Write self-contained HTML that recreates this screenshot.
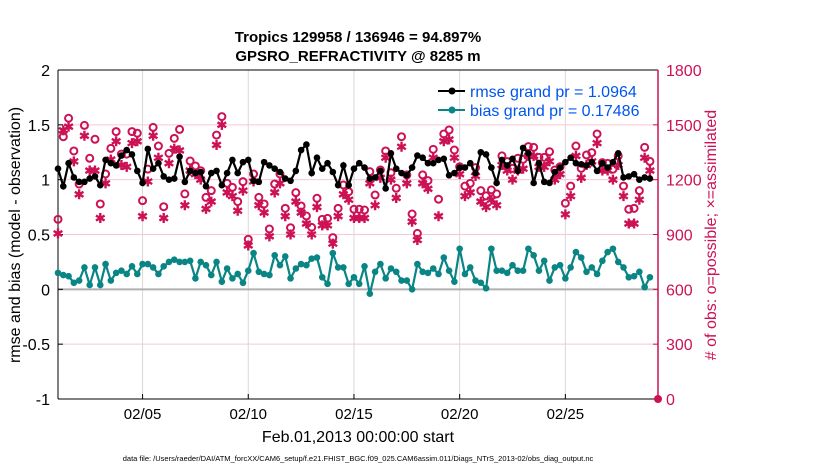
<!DOCTYPE html>
<html><head><meta charset="utf-8"><style>
body{margin:0;background:#fff;}
svg{display:block;font-family:"Liberation Sans",sans-serif;}
</style></head><body>
<svg id="chart" width="830" height="470" xmlns="http://www.w3.org/2000/svg">
<g id="grid"></g>
<g id="axes"></g>
<g id="marks"></g>
<text x="358" y="42" text-anchor="middle" font-size="15" font-weight="bold">Tropics 129958 / 136946 = 94.897%</text>
<text x="358" y="61" text-anchor="middle" font-size="15" font-weight="bold">GPSRO_REFRACTIVITY @ 8285 m</text>
<text x="358" y="442" text-anchor="middle" font-size="16">Feb.01,2013 00:00:00 start</text>
<text transform="translate(20,235) rotate(-90)" text-anchor="middle" font-size="16">rmse and bias (model - observation)</text>
<text transform="translate(716,235) rotate(-90)" text-anchor="middle" font-size="16" fill="#cc1155"># of obs: o=possible; ×=assimilated</text>
<text x="358" y="461" text-anchor="middle" font-size="7.5">data file: /Users/raeder/DAI/ATM_forcXX/CAM6_setup/f.e21.FHIST_BGC.f09_025.CAM6assim.011/Diags_NTrS_2013-02/obs_diag_output.nc</text>
<g>
<line x1="438" y1="91" x2="465" y2="91" stroke="#000" stroke-width="2"/><circle cx="452" cy="91" r="3.5" fill="#000"/>
<text x="470" y="97" font-size="16" fill="#0055ee">rmse grand pr = 1.0964</text>
<line x1="438" y1="110" x2="465" y2="110" stroke="#0a8585" stroke-width="2"/><circle cx="452" cy="110" r="3.5" fill="#0a8585"/>
<text x="470" y="116" font-size="16" fill="#0055ee">bias grand pr = 0.17486</text>
</g>
</svg>
<script>
const rmse=[1.10,0.94,1.15,1.02,0.98,0.98,1.01,1.03,0.95,1.18,1.15,1.13,1.22,1.27,1.23,1.08,0.97,1.28,1.10,1.15,1.03,1.00,1.01,1.21,0.98,1.08,1.06,1.07,0.94,
1.06,1.08,0.95,1.06,1.18,1.06,1.16,1.18,0.99,0.98,1.16,1.13,1.10,1.07,1.01,0.99,1.08,1.27,1.32,1.06,1.20,1.10,1.15,1.07,0.95,1.13,0.95,1.10,
1.15,1.11,1.01,1.02,1.08,0.92,1.24,1.10,1.06,1.04,1.11,1.22,1.20,1.15,1.15,1.18,1.19,1.04,1.06,1.11,1.11,1.15,1.06,1.25,1.23,1.11,0.97,1.18,
1.13,1.19,1.08,1.29,1.24,0.97,1.15,0.98,0.97,1.07,1.11,1.16,1.20,1.15,1.14,1.13,1.16,1.08,1.15,1.11,1.16,1.24,1.02,1.03,1.05,1.00,1.02,1.01];
const bias=[0.15,0.13,0.12,0.06,0.08,0.20,0.04,0.20,0.04,0.23,0.08,0.15,0.17,0.14,0.21,0.14,0.23,0.23,0.20,0.14,0.21,0.25,0.27,0.25,0.25,0.26,0.10,0.25,0.22,
0.13,0.25,0.07,0.19,0.10,0.14,0.06,0.17,0.33,0.16,0.14,0.13,0.31,0.22,0.30,0.10,0.19,0.23,0.22,0.28,0.29,0.11,0.05,0.33,0.20,0.20,0.05,0.11,
0.05,0.21,-0.04,0.16,0.23,0.10,0.19,0.16,0.08,0.08,0.00,0.23,0.16,0.15,0.19,0.14,0.29,0.17,0.07,0.37,0.14,0.20,0.08,0.06,0.01,0.37,0.17,0.17,
0.15,0.22,0.17,0.17,0.37,0.31,0.17,0.26,0.08,0.20,0.22,0.10,0.20,0.34,0.29,0.16,0.20,0.14,0.26,0.34,0.37,0.25,0.20,0.11,0.12,0.16,0.02,0.11];
const possible=[983,1435,1536,1357,1176,1497,1317,1421,1067,1231,1371,1463,1340,1340,1463,1454,1085,1258,1486,1384,1052,1344,1426,1475,1122,1302,1275,1249,1103,
1140,1444,1545,1180,1158,1080,1189,874,1231,1103,1067,930,1176,1231,1043,937,1129,1056,1001,939,1098,983,988,883,1043,1171,1134,1038,
1038,1034,1244,1116,1253,1357,1238,1153,1435,1226,1012,906,1226,1195,1366,1093,1450,1472,1362,1271,1165,1180,1266,1140,1111,1144,1122,1330,
1299,1262,1317,1311,1381,1377,1322,1322,1353,1253,1271,1071,1165,1384,1262,1335,1348,1450,1293,1289,1257,1330,1165,1038,1043,1140,1377,1300];
const assimilated=[906,1470,1490,1300,1120,1440,1250,1250,990,1180,1310,1410,1280,1270,1400,1410,1000,1190,1440,1320,990,1290,1370,1360,1060,1250,1230,1200,1040,
1080,1390,1500,1130,1110,1030,1140,840,1190,1060,1020,890,1130,1180,1000,900,1080,1020,960,900,1050,950,950,850,1000,1120,1090,990,
990,990,1180,1060,1210,1320,1200,1100,1380,1180,970,870,1180,1150,1320,1000,1410,1420,1320,1230,1110,1130,1220,1080,1050,1090,1060,1280,
1250,1200,1250,1260,1330,1330,1270,1270,1300,1200,1230,1010,1110,1330,1210,1280,1300,1400,1250,1250,1200,1280,1110,960,960,1090,1320,1250];
const xTickDays=[4,9,14,19,24];
const xTickLabels=["02/05","02/10","02/15","02/20","02/25"];
const yTicksLeft=[-1,-0.5,0,0.5,1,1.5,2];
const yTicksRight=[0,300,600,900,1200,1500,1800];

const L=58,R=658,T=70,B=399,DAYS=(R-L)/21.14;
const NS="http://www.w3.org/2000/svg";
const xS=d=>L+d/DAYS*(R-L);
const yL=v=>B-(v+1)/3*(B-T);
const yR=v=>B-v/1800*(B-T);
function mk(tag,attrs,parent){const e=document.createElementNS(NS,tag);for(const k in attrs)e.setAttribute(k,attrs[k]);parent.appendChild(e);return e;}
const grid=document.getElementById('grid'),axes=document.getElementById('axes'),marks=document.getElementById('marks');

xTickDays.forEach((d,i)=>{
  const gl=mk('line',{x1:xS(d),x2:xS(d),y1:T,y2:B,stroke:'#d8d8d8','stroke-width':1},grid);
  
  
  mk('line',{x1:xS(d),x2:xS(d),y1:B,y2:B-5,stroke:'#000'},axes);
  const t=mk('text',{x:xS(d),y:B+20,'text-anchor':'middle','font-size':15},axes);
  t.textContent=xTickLabels[i];
  
  
});
yTicksRight.forEach(v=>{
  if(v>0&&v<1800&&v!==600){
    const gl=mk('line',{x1:L,x2:R,y1:yR(v),y2:yR(v),stroke:'#f5c8d8','stroke-width':1},grid);
    
    
  }
  mk('line',{x1:R,x2:R-5,y1:yR(v),y2:yR(v),stroke:'#cc1155'},axes);
  const t=mk('text',{x:R+8,y:yR(v)+6,'font-size':16,fill:'#cc1155'},axes);
  t.textContent=v;
  
  
});
yTicksLeft.forEach(v=>{
  mk('line',{x1:L,x2:L+5,y1:yL(v),y2:yL(v),stroke:'#000'},axes);
  const t=mk('text',{x:L-8,y:yL(v)+6,'font-size':16,'text-anchor':'end'},axes);
  t.textContent=v;
  
  
});
const zl=mk('line',{x1:L,x2:R,y1:yL(0),y2:yL(0),stroke:'#b0b0b0','stroke-width':2},grid);


mk('line',{x1:L,x2:R,y1:T,y2:T,stroke:'#000'},axes);
mk('line',{x1:L,x2:R,y1:B,y2:B,stroke:'#000'},axes);
mk('line',{x1:L,x2:L,y1:T,y2:B,stroke:'#000'},axes);
mk('line',{x1:R,x2:R,y1:T,y2:B,stroke:'#cc1155','stroke-width':1.5},axes);

possible.forEach((v,i)=>{
  const c=mk('circle',{cx:xS(i*0.25),cy:yR(v),r:3.5,fill:'none',stroke:'#cc1155','stroke-width':2},marks);
  
  
});
assimilated.forEach((v,i)=>{
  const x=xS(i*0.25),y=yR(v),r=5;let d='';
  for(let k=0;k<3;k++){const a=Math.PI/2+k*Math.PI/3;d+=`M${x-r*Math.cos(a)},${y-r*Math.sin(a)}L${x+r*Math.cos(a)},${y+r*Math.sin(a)}`;}
  const p=mk('path',{d:d,stroke:'#cc1155','stroke-width':2.4},marks);
  
  
});
function series(arr,color,name){
  const pts=arr.map((v,i)=>xS(i*0.25)+','+yL(v)).join(' ');
  const pl=mk('polyline',{points:pts,fill:'none',stroke:color,'stroke-width':2.2},marks);
  
  
  arr.forEach((v,i)=>{
    const c=mk('circle',{cx:xS(i*0.25),cy:yL(v),r:3.3,fill:color},marks);
    
    
  });
}
series(bias,'#0a8585','bias');
series(rmse,'#000000','rmse');
const endDot=mk('circle',{cx:R,cy:B,r:4,fill:'#cc1155'},marks);


</script>
</body></html>
